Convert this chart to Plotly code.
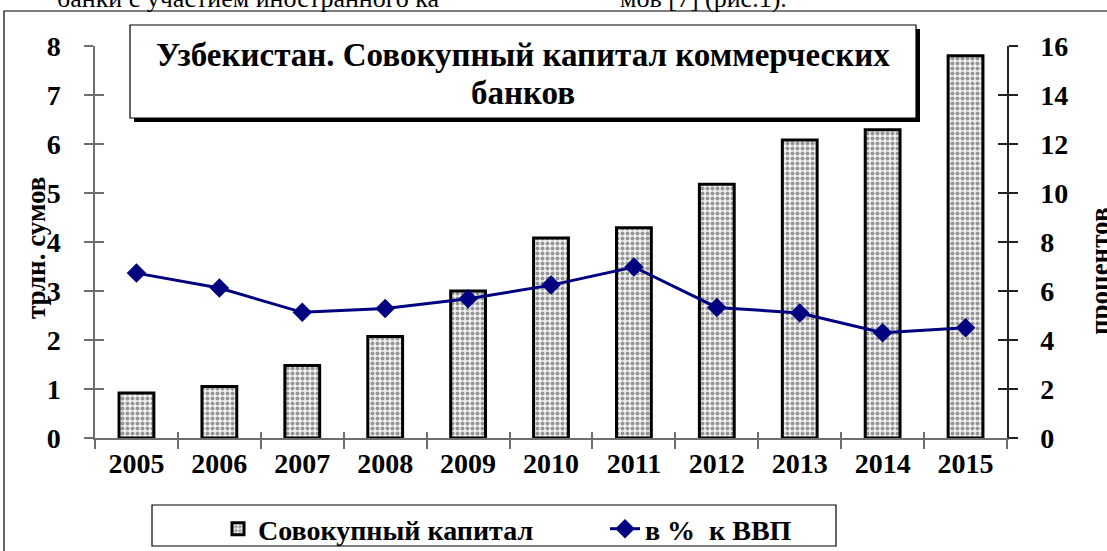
import plotly.graph_objects as go

years = ["2005", "2006", "2007", "2008", "2009", "2010", "2011", "2012", "2013", "2014", "2015"]
capital = [0.92, 1.05, 1.48, 2.07, 3.0, 4.08, 4.29, 5.18, 6.08, 6.29, 7.8]
pct_gdp = [6.73, 6.12, 5.13, 5.29, 5.68, 6.24, 6.98, 5.33, 5.1, 4.3, 4.5]

left_ticks = list(range(0, 9))
right_ticks = list(range(0, 17, 2))

FONT = "Liberation Serif, Times New Roman, serif"
L, R, T, B = 95, 100, 46, 113
W, H = 1107, 551
PW, PH = W - L - R, H - T - B


def px(x):
    return (x - L) / PW


def py(y):
    return (H - B - y) / PH


def bold(v):
    return "<b>%s</b>" % v


fig = go.Figure()
fig.add_trace(go.Bar(
    x=years, y=capital, name=bold("Совокупный капитал"), width=0.42,
    marker=dict(color="white", line=dict(color="black", width=3),
                pattern=dict(shape=".", fgcolor="#3a3a3a", bgcolor="#f2f2f2", size=5, solidity=0.5)),
    yaxis="y", xaxis="x",
))
fig.add_trace(go.Scatter(
    x=years, y=pct_gdp, name=bold("в %  к ВВП"), mode="lines+markers",
    line=dict(color="#000080", width=3),
    marker=dict(symbol="diamond", size=15, color="#000080"),
    yaxis="y2", xaxis="x",
))

axis_line = "#6e6e6e"
fig.update_layout(
    width=W, height=H,
    margin=dict(l=L, r=R, t=T, b=B, pad=0, autoexpand=False),
    paper_bgcolor="white", plot_bgcolor="rgba(0,0,0,0)",
    font=dict(family=FONT, color="black", size=22),
    showlegend=True,
    legend=dict(orientation="h", x=px(218), y=py(504), xanchor="left", yanchor="top",
                borderwidth=0, bgcolor="rgba(0,0,0,0)",
                font=dict(family=FONT, size=28, color="black"),
                entrywidth=342, itemwidth=30, tracegroupgap=0),
    xaxis=dict(type="category", range=[-0.5, 10.5], showline=True, linecolor=axis_line, linewidth=1.5,
               tickmode="array", tickvals=years, ticktext=[bold(y) for y in years],
               ticks="outside", tickson="boundaries", ticklen=9, tickcolor=axis_line, tickwidth=1.5,
               tickfont=dict(family=FONT, size=28, color="black"),
               showgrid=False, zeroline=False, fixedrange=True, automargin=False),
    xaxis2=dict(overlaying="x", range=[-0.5, 10.5], tickvals=[i + 0.5 for i in range(10)],
                ticks="inside", ticklen=6, tickcolor=axis_line, tickwidth=1.5, showticklabels=False,
                showgrid=False, zeroline=False, showline=False, side="bottom", anchor="y"),
    yaxis=dict(range=[0, 8], tickvals=left_ticks, ticktext=[bold(t) for t in left_ticks],
               showline=True, linecolor=axis_line, linewidth=1.5,
               ticks="outside", ticklen=9, tickcolor=axis_line, tickwidth=1.5,
               tickfont=dict(family=FONT, size=28, color="black"),
               showgrid=False, zeroline=False, ticklabelstandoff=18, automargin=False),
    yaxis2=dict(range=[0, 16], tickvals=right_ticks, ticktext=[bold(t) for t in right_ticks],
                overlaying="y", side="right", showline=True,
                linecolor="#222222", linewidth=1.5, ticks="outside", ticklen=9, tickcolor="#222222",
                tickwidth=1.5, tickfont=dict(family=FONT, size=28, color="black"),
                showgrid=False, zeroline=False, ticklabelstandoff=17, automargin=False),
    yaxis3=dict(range=[0, 8], tickvals=left_ticks, overlaying="y", side="left", ticks="inside",
                ticklen=9, tickcolor=axis_line, tickwidth=1.5, showticklabels=False,
                showgrid=False, zeroline=False, showline=False),
    yaxis4=dict(range=[0, 16], tickvals=right_ticks, overlaying="y", side="right", ticks="inside",
                ticklen=9, tickcolor="#222222", tickwidth=1.5, showticklabels=False,
                showgrid=False, zeroline=False, showline=False),
)

# invisible helper traces to activate overlay tick axes
fig.add_trace(go.Scatter(x=[0], y=[0], xaxis="x2", yaxis="y3", mode="markers",
                         marker=dict(opacity=0), showlegend=False, hoverinfo="skip"))
fig.add_trace(go.Scatter(x=[0], y=[0], xaxis="x2", yaxis="y4", mode="markers",
                         marker=dict(opacity=0), showlegend=False, hoverinfo="skip"))

shapes = []
shapes.append(dict(type="rect", xref="paper", yref="paper", x0=px(4), x1=px(1120), y0=py(570), y1=py(11),
                   line=dict(color="black", width=1.2), fillcolor="rgba(0,0,0,0)", layer="below"))
# title box with shadow
shapes.append(dict(type="rect", xref="paper", yref="paper", x0=px(134), x1=px(920), y0=py(122), y1=py(29),
                   line=dict(width=0), fillcolor="black", layer="above"))
shapes.append(dict(type="rect", xref="paper", yref="paper", x0=px(130), x1=px(916), y0=py(118), y1=py(25),
                   line=dict(color="black", width=1.2), fillcolor="white", layer="above"))
# legend box
shapes.append(dict(type="rect", xref="paper", yref="paper", x0=px(152), x1=px(836), y0=py(546), y1=py(505),
                   line=dict(color="black", width=1.2), fillcolor="white", layer="below"))
fig.update_layout(shapes=shapes)

ann = []
ann.append(dict(text=bold("Узбекистан. Совокупный капитал коммерческих"), xref="paper", yref="paper",
                x=px(523), y=py(55), xanchor="center", yanchor="middle", showarrow=False,
                font=dict(family=FONT, size=33, color="black")))
ann.append(dict(text=bold("банков"), xref="paper", yref="paper",
                x=px(523), y=py(93), xanchor="center", yanchor="middle", showarrow=False,
                font=dict(family=FONT, size=33, color="black")))
ann.append(dict(text=bold("трлн. сумов"), xref="paper", yref="paper", x=px(36), y=py(248),
                xanchor="center", yanchor="middle", textangle=-90, showarrow=False,
                font=dict(family=FONT, size=27, color="black")))
ann.append(dict(text=bold("процентов"), xref="paper", yref="paper", x=px(1100), y=py(271),
                xanchor="center", yanchor="middle", textangle=-90, showarrow=False,
                font=dict(family=FONT, size=27, color="black")))
ann.append(dict(text="банки с участием иностранного ка", xref="paper", yref="paper", x=px(55), y=py(-2),
                xanchor="left", yanchor="middle", showarrow=False,
                font=dict(family=FONT, size=26, color="black")))
ann.append(dict(text="мов [7] (рис.1).", xref="paper", yref="paper", x=px(618), y=py(-2),
                xanchor="left", yanchor="middle", showarrow=False,
                font=dict(family=FONT, size=26, color="black")))
fig.update_layout(annotations=ann)

fig.write_html("out.html", config={"displayModeBar": False},
               post_script="document.body.style.margin='0px';")
